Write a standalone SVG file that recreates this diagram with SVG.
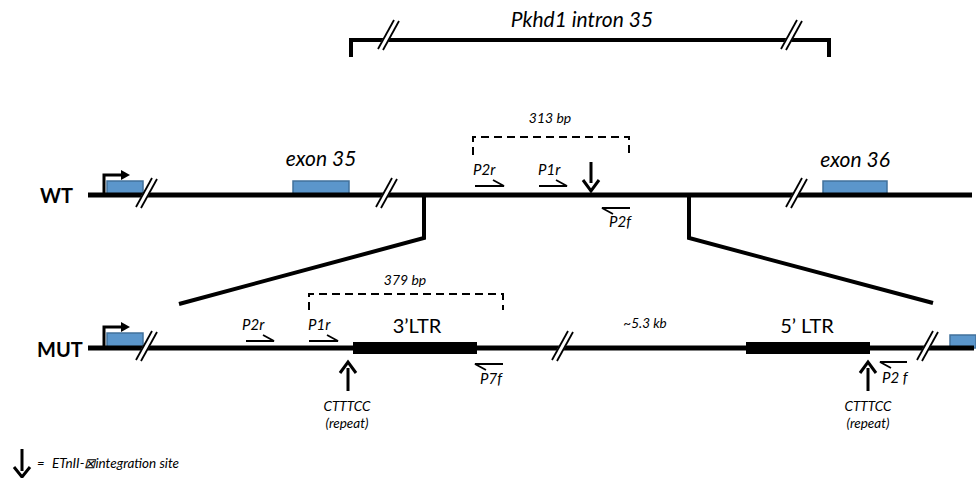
<svg xmlns="http://www.w3.org/2000/svg" width="976" height="478" viewBox="0 0 976 478">
<style>
text{font-family:Lato,"Liberation Sans",sans-serif;fill:#000}
.it{font-style:italic}
.lbl{font-weight:bold;font-size:20px}
.exon{fill:#5b96cb;stroke:#41719c;stroke-width:1.5}
.dna{stroke:#000;stroke-width:5;fill:none}
.thick{stroke:#000;stroke-width:4;fill:none}
.prim{stroke:#000;stroke-width:1.8;fill:none}
.dash{stroke:#000;stroke-width:2;fill:none;stroke-dasharray:8,5}
.ltr{fill:#000}
.pl{font-style:italic;font-size:15px}
.sm{font-style:italic;font-size:14px}
.big{font-style:italic;font-size:21px}
</style>
<defs>
<g id="brk">
<line x1="-9" y1="15" x2="8" y2="-15" stroke="#fff" stroke-width="6"/>
<line x1="-11" y1="14" x2="5" y2="-15" stroke="#000" stroke-width="1.8"/>
<line x1="-6" y1="15" x2="10" y2="-14" stroke="#000" stroke-width="1.8"/>
</g>
</defs>

<!-- top bracket -->
<g id="intron-bracket">
<path class="thick" d="M351,57 V40 H829 V57" stroke-width="4.5"/>
<use href="#brk" transform="translate(389,35)"/>
<use href="#brk" transform="translate(792,35)"/>
<text class="big" x="582" y="27" text-anchor="middle">Pkhd1 intron 35</text>
</g>

<!-- WT -->
<g id="wt">
<text class="lbl" x="40" y="203">WT</text>
<rect class="exon" x="107" y="181" width="36" height="14"/>
<rect class="exon" x="293" y="181" width="56" height="14"/>
<rect class="exon" x="823" y="181" width="64" height="14"/>
<line class="dna" x1="88" y1="195" x2="972" y2="195"/>
<path d="M104,195 V175 H122" stroke="#000" stroke-width="3" fill="none"/>
<path d="M121,170 L130,175 L121,180 z" fill="#000"/>
<use href="#brk" transform="translate(147,193)"/>
<use href="#brk" transform="translate(387,193)"/>
<use href="#brk" transform="translate(797,193)"/>
<text class="big" x="321" y="166" text-anchor="middle">exon 35</text>
<text class="big" x="855" y="167" text-anchor="middle">exon 36</text>
</g>

<g id="wt-pcr">
<path class="dash" d="M473,155 V137 H629 V155"/>
<text class="sm" x="550" y="123" text-anchor="middle">313 bp</text>
<text class="pl" x="473" y="175">P2r</text>
<path class="prim" d="M475,186 H504 L493,180"/>
<text class="pl" x="538" y="175">P1r</text>
<path class="prim" d="M539,186 H567 L556,180"/>
<text class="pl" x="609" y="227">P2f</text>
<path class="prim" d="M630,208 H602 L613,214"/>
</g>

<g id="wt-site">
<line x1="591" y1="162" x2="591" y2="183" stroke="#000" stroke-width="3"/>
<path d="M583,180 L591,191 L599,180" stroke="#000" stroke-width="3" fill="none"/>
</g>

<!-- connectors (insertion) -->
<g id="connectors">
<path class="thick" d="M424,196 V238 L179,304"/>
<path class="thick" d="M689,196 V238 L933,303"/>
</g>

<!-- MUT -->
<g id="mut">
<text class="lbl" x="37" y="357">MUT</text>
<rect class="exon" x="107" y="333" width="36" height="15"/>
<rect class="exon" x="950" y="335" width="26" height="13"/>
<line class="dna" x1="88" y1="348" x2="974" y2="348"/>
<path d="M104,348 V327 H122" stroke="#000" stroke-width="3" fill="none"/>
<path d="M121,322 L130,327 L121,332 z" fill="#000"/>
<use href="#brk" transform="translate(147,346)"/>
<use href="#brk" transform="translate(563,346)"/>
<use href="#brk" transform="translate(928,346)"/>
<text class="it" x="645" y="328" font-size="13.5" text-anchor="middle">~5.3 kb</text>
</g>

<g id="ltr3">
<rect class="ltr" x="353" y="342" width="124" height="12"/>
<text x="417" y="333" font-size="20" text-anchor="middle">3’LTR</text>
</g>

<g id="ltr5">
<rect class="ltr" x="746" y="342" width="124" height="12"/>
<text x="807" y="333" font-size="20" text-anchor="middle">5’ LTR</text>
</g>

<g id="mut-pcr">
<path class="dash" d="M309,310 V294 H503 V310"/>
<text class="sm" x="405" y="285" text-anchor="middle">379 bp</text>
<text class="pl" x="242" y="330">P2r</text>
<path class="prim" d="M246,341 H274 L263,335"/>
<text class="pl" x="308" y="330">P1r</text>
<path class="prim" d="M309,341 H338 L327,335"/>
<text class="pl" x="480" y="384">P7f</text>
<path class="prim" d="M503,364 H475 L486,370"/>
<text class="pl" x="882" y="383">P2 f</text>
<path class="prim" d="M907,362 H880 L891,368"/>
</g>

<g id="repeat-left">
<line x1="348" y1="391" x2="348" y2="368" stroke="#000" stroke-width="3"/>
<path d="M340,373 L348,362 L356,373" stroke="#000" stroke-width="3" fill="none"/>
<text class="it" x="347" y="411" font-size="13.5" text-anchor="middle">CTTTCC</text>
<text class="it" x="347" y="428" font-size="13.5" text-anchor="middle">(repeat)</text>
</g>

<g id="repeat-right">
<line x1="868" y1="391" x2="868" y2="368" stroke="#000" stroke-width="3"/>
<path d="M860,373 L868,362 L876,373" stroke="#000" stroke-width="3" fill="none"/>
<text class="it" x="868" y="411" font-size="13.5" text-anchor="middle">CTTTCC</text>
<text class="it" x="868" y="428" font-size="13.5" text-anchor="middle">(repeat)</text>
</g>

<!-- legend -->
<g id="legend">
<line x1="22" y1="449" x2="22" y2="471" stroke="#000" stroke-width="3"/>
<path d="M14,467 L22,477 L30,467" stroke="#000" stroke-width="3" fill="none"/>
<text class="it" x="37" y="468" font-size="13">=</text>
<text class="it" x="52" y="468" font-size="13.5">ETnII-⊠integration site</text>
</g>
</svg>
